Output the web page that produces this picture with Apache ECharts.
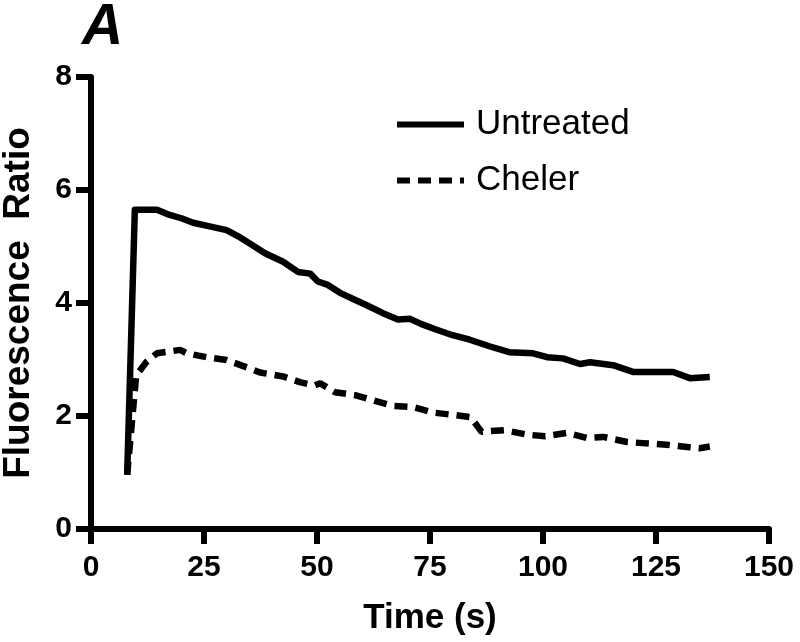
<!DOCTYPE html>
<html>
<head>
<meta charset="utf-8">
<script src="https://cdn.jsdelivr.net/npm/echarts@6/dist/echarts.min.js"></script>
<style>html,body{margin:0;padding:0;background:#fff}#c{width:800px;height:642px}</style>
</head>
<body>
<div id="c"></div>
<script>
const untreatedT = [8, 9.7, 14.6, 17, 20, 22.6, 26, 30, 33, 35.2, 38.5, 42.5, 45.8, 48.5, 50.2, 52.4, 55.1, 58, 61, 64.6, 67.9, 70.6, 73, 76, 80, 83.8, 88.3, 92.5, 97.8, 100.9, 104.4, 108.2, 110.4, 115.5, 119.9, 123.7, 128.8, 132.5, 136.9];
const untreatedV = [0.96, 5.65, 5.65, 5.57, 5.5, 5.42, 5.36, 5.29, 5.16, 5.05, 4.88, 4.73, 4.55, 4.52, 4.38, 4.32, 4.18, 4.07, 3.96, 3.82, 3.71, 3.72, 3.63, 3.54, 3.43, 3.35, 3.23, 3.13, 3.11, 3.04, 3.02, 2.92, 2.95, 2.9, 2.78, 2.78, 2.78, 2.67, 2.69];
const chelerT = [8, 10, 12.3, 14.6, 19.7, 21.2, 25.6, 30, 34.5, 37.4, 42.5, 46.2, 49.5, 50.7, 54, 58.4, 62.4, 66.8, 71.2, 75.7, 80.1, 84, 86.4, 91.4, 96.5, 100.5, 105.3, 109.7, 113.3, 118.6, 122.1, 127.4, 131.9, 134.7, 136.9];
const chelerV = [0.96, 2.72, 2.96, 3.11, 3.17, 3.11, 3.04, 2.99, 2.86, 2.77, 2.70, 2.60, 2.54, 2.58, 2.42, 2.37, 2.28, 2.18, 2.16, 2.06, 2.02, 1.98, 1.72, 1.75, 1.67, 1.64, 1.70, 1.61, 1.63, 1.54, 1.52, 1.49, 1.45, 1.43, 1.46];
const seriesNames = ['Untreated', 'Cheler'];
const xTitle = 'Time (s)';
const yTitle = 'Fluorescence  Ratio';
const panelLabel = 'A';

const FF = '"Liberation Sans", Arial, Helvetica, sans-serif';
const zip = (a, b) => a.map((v, i) => [v, b[i]]);
const DASH = [13, 8];

const chart = echarts.init(document.getElementById('c'), null, {renderer: 'canvas'});
chart.setOption({
  animation: false,
  backgroundColor: '#ffffff',
  grid: {left: 91, right: 31, top: 77, bottom: 113, containLabel: false, outerBoundsMode: 'none'},
  title: {
    text: panelLabel, left: 77, top: -5,
    textStyle: {fontFamily: FF, fontSize: 57, fontWeight: 'bold', fontStyle: 'italic', color: '#000'}
  },
  legend: {
    orient: 'vertical', left: 394, top: 107, padding: 0, itemWidth: 67, itemHeight: 14, itemGap: 21,
    itemStyle: {opacity: 0},
    data: [
      {name: seriesNames[0], lineStyle: {width: 6, color: '#000', type: 'solid'}},
      {name: seriesNames[1], lineStyle: {width: 6, color: '#000', type: DASH}}
    ],
    textStyle: {fontFamily: FF, fontSize: 35, color: '#000', padding: [0, 0, 0, 7]}
  },
  xAxis: {
    type: 'value', min: 0, max: 150, interval: 25,
    name: xTitle, nameLocation: 'middle', nameGap: 72,
    nameTextStyle: {fontFamily: FF, fontSize: 35, fontWeight: 'bold', color: '#000'},
    axisLine: {show: true, onZero: false, lineStyle: {color: '#000', width: 6}},
    axisTick: {show: true, length: 15, lineStyle: {color: '#000', width: 6}},
    axisLabel: {fontFamily: FF, fontSize: 30, fontWeight: 'bold', color: '#000', margin: 24},
    splitLine: {show: false}
  },
  yAxis: {
    type: 'value', min: 0, max: 8, interval: 2,
    name: yTitle, nameLocation: 'middle', nameGap: 54,
    nameTextStyle: {fontFamily: FF, fontSize: 37, fontWeight: 'bold', color: '#000'},
    axisLine: {show: true, onZero: false, lineStyle: {color: '#000', width: 6}},
    axisTick: {show: true, length: 15, lineStyle: {color: '#000', width: 6}},
    axisLabel: {fontFamily: FF, fontSize: 30, fontWeight: 'bold', color: '#000', margin: 19},
    splitLine: {show: false}
  },
  series: [
    {
      name: seriesNames[0], type: 'line', data: zip(untreatedT, untreatedV),
      symbol: 'none', clip: false,
      lineStyle: {color: '#000', width: 6.5, join: 'round'},
      itemStyle: {color: '#000'}
    },
    {
      name: seriesNames[1], type: 'line', data: zip(chelerT, chelerV),
      symbol: 'none', clip: false,
      lineStyle: {color: '#000', width: 6.5, type: DASH},
      itemStyle: {color: '#000'}
    }
  ]
});
</script>
</body>
</html>
